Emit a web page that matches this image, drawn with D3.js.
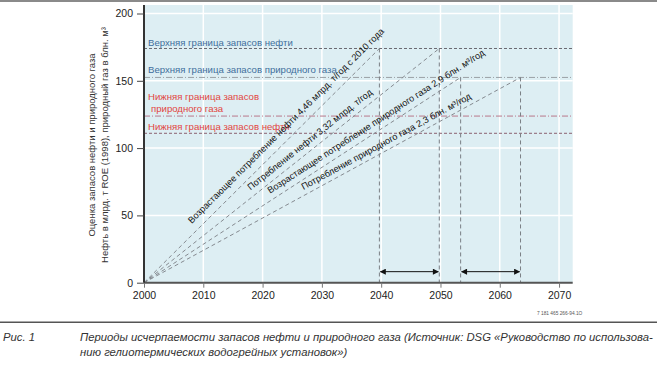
<!DOCTYPE html>
<html>
<head>
<meta charset="utf-8">
<script src="https://cdn.jsdelivr.net/npm/d3@7"></script>
<style>
  body { margin: 0; background: #fff; }
  svg { font-family: "Liberation Sans", Arial, sans-serif; }
</style>
</head>
<body>
<svg width="657" height="365"></svg>
<script>
// data
var xTicks = [2000, 2010, 2020, 2030, 2040, 2050, 2060, 2070];
var yTicks = [0, 50, 100, 150, 200];

var limitNames = ["Верхняя граница запасов нефти", "Верхняя граница запасов природного газа",
                  "Нижняя граница запасов|природного газа", "Нижняя граница запасов нефти"];
var limitValues = [174, 152.5, 123.8, 111];

var lineNames = ["Возрастающее потребление нефти 4,46 млрд. т/год с 2010 года",
                 "Потребление нефти 3,32 млрд. т/год",
                 "Возрастающее потребление природного газа 2,9 блн. м³/год",
                 "Потребление природного газа 2,3 блн. м³/год"];
var lineEndYear = [2039.7, 2049.8, 2053.4, 2063.5];
var lineEndValue = [174, 174, 152.5, 152.5];
var labelStartYear = [2009, 2018.6, 2021.8, 2027.3];

var arrowFrom = [2039.7, 2053.4];
var arrowTo = [2049.8, 2063.5];
var arrowValue = 8.2;

var svg = d3.select("svg");

var x = d3.scaleLinear().domain([2000, 2072.3]).range([144, 572.7]);
var y = d3.scaleLinear().domain([0, 200]).range([282.7, 13.5]);

// frame lines of the page
svg.append("rect").attr("x", 0).attr("y", 0).attr("width", 657).attr("height", 2).attr("fill", "#8a8a8a");
svg.append("rect").attr("x", 0).attr("y", 321.5).attr("width", 657).attr("height", 1.5).attr("fill", "#555");

// plot background
svg.append("rect")
   .attr("x", x(2000)).attr("y", y(206.3))
   .attr("width", x(2072.3) - x(2000)).attr("height", y(0) - y(206.3))
   .attr("fill", "#ddeef3");

// white grid
svg.append("g").selectAll("line").data(xTicks.slice(1)).enter().append("line")
   .attr("x1", function(d) { return x(d); }).attr("x2", function(d) { return x(d); })
   .attr("y1", y(206.3)).attr("y2", y(0))
   .attr("stroke", "#fff").attr("stroke-width", 1.5);
svg.append("g").selectAll("line").data(yTicks.slice(1)).enter().append("line")
   .attr("x1", x(2000)).attr("x2", x(2072.3))
   .attr("y1", function(d) { return y(d); }).attr("y2", function(d) { return y(d); })
   .attr("stroke", "#fff").attr("stroke-width", 1.5);

// horizontal reserve limits
var limitStroke = ["#6a6a72", "#9aa0a6", "#b8788a", "#8a6070"];
var limitDash = ["3,2", "6,2,1,2", "6,2,1,2", "3,2"];
svg.append("g").selectAll("line").data(limitValues).enter().append("line")
   .attr("x1", x(2000)).attr("x2", x(2072.3))
   .attr("y1", function(d) { return y(d); }).attr("y2", function(d) { return y(d); })
   .attr("stroke", function(d, i) { return limitStroke[i]; })
   .attr("stroke-dasharray", function(d, i) { return limitDash[i]; })
   .attr("stroke-width", 1);

var limitColor = ["#3f6f9c", "#3f6f9c", "#e2453f", "#e2453f"];
var limitBase = [46, 73, 100, 129.5];
limitNames.forEach(function(name, i) {
  var parts = name.split("|");
  var t = svg.append("text")
     .attr("x", 148).attr("y", limitBase[i])
     .attr("fill", limitColor[i])
     .style("font-size", "9.6px");
  parts.forEach(function(p, j) {
    t.append("tspan").attr("x", 148 + j * 3).attr("dy", j == 0 ? 0 : 12).text(p);
  });
});

// vertical drop lines
svg.append("g").selectAll("line").data(lineEndYear).enter().append("line")
   .attr("x1", function(d) { return x(d); }).attr("x2", function(d) { return x(d); })
   .attr("y1", function(d, i) { return y(lineEndValue[i]); }).attr("y2", y(0))
   .attr("stroke", "#7a7f85").attr("stroke-dasharray", "4,3").attr("stroke-width", 1);

// consumption lines
svg.append("g").selectAll("line").data(lineEndYear).enter().append("line")
   .attr("x1", x(2000)).attr("y1", y(0))
   .attr("x2", function(d) { return x(d); })
   .attr("y2", function(d, i) { return y(lineEndValue[i]); })
   .attr("stroke", "#858a90").attr("stroke-dasharray", "4,3").attr("stroke-width", 1);

// labels on the lines
var labelOffset = [8, 6, 6, 5];
lineNames.forEach(function(name, i) {
  var dx = x(lineEndYear[i]) - x(2000), dy = y(lineEndValue[i]) - y(0);
  var ang = Math.atan2(dy, dx);
  var t = (labelStartYear[i] - 2000) / (lineEndYear[i] - 2000);
  var px = x(2000) + dx * t, py = y(0) + dy * t;
  px += Math.sin(ang) * labelOffset[i];
  py -= Math.cos(ang) * labelOffset[i];
  var deg = ang * 180 / Math.PI;
  svg.append("text")
     .attr("transform", "translate(" + px + "," + py + ") rotate(" + deg + ")")
     .attr("fill", "#111")
     .style("font-size", "9.2px")
     .text(name);
});

// arrows
svg.append("defs").append("marker")
   .attr("id", "ah").attr("viewBox", "0 0 10 10").attr("refX", 9).attr("refY", 5)
   .attr("markerWidth", 8).attr("markerHeight", 6).attr("markerUnits", "userSpaceOnUse")
   .attr("orient", "auto-start-reverse")
   .append("path").attr("d", "M0,0L10,5L0,10Z").attr("fill", "#111");
svg.append("g").selectAll("line").data(arrowFrom).enter().append("line")
   .attr("x1", function(d) { return x(d) + 1; })
   .attr("x2", function(d, i) { return x(arrowTo[i]) - 1; })
   .attr("y1", y(arrowValue)).attr("y2", y(arrowValue))
   .attr("stroke", "#111").attr("stroke-width", 1)
   .attr("marker-start", "url(#ah)").attr("marker-end", "url(#ah)");

// axes
var xAxis = svg.append("g").attr("transform", "translate(0," + y(0) + ")")
   .call(d3.axisBottom(x).tickValues(xTicks).tickFormat(d3.format("d")).tickSize(5).tickPadding(4));
xAxis.select(".domain").attr("d", "M" + x(2000) + ",0H" + x(2072.3)).attr("stroke", "#555").attr("stroke-width", 2);
xAxis.selectAll(".tick line").attr("stroke", "#777");
xAxis.selectAll(".tick text").style("font-size", "10.5px").attr("fill", "#222").style("font-family", "Liberation Sans, Arial, sans-serif");

var yAxis = svg.append("g").attr("transform", "translate(" + x(2000) + ",0)")
   .call(d3.axisLeft(y).tickValues(yTicks).tickSize(7).tickPadding(4));
yAxis.select(".domain").attr("d", "M0," + y(206.3) + "V" + y(0)).attr("stroke", "#333").attr("stroke-width", 2);
yAxis.selectAll(".tick line").attr("stroke", "#444");
yAxis.selectAll(".tick text").style("font-size", "10.5px").attr("fill", "#222").style("font-family", "Liberation Sans, Arial, sans-serif");

// y title
var yt = svg.append("text").attr("transform", "translate(95,145) rotate(-90)")
   .attr("text-anchor", "middle").attr("fill", "#333").style("font-size", "9.5px");
yt.append("tspan").attr("x", 0).attr("dy", 0).text("Оценка запасов нефти и природного газа");
yt.append("tspan").attr("x", 0).attr("dy", 13).text("Нефть в млрд. т ROE (1998), природный газ в блн. м³");

// small code
svg.append("text").attr("x", 537).attr("y", 315).attr("fill", "#555")
   .style("font-size", "4.8px").text("7 181 465 266-94.1O");

// caption
var cap = svg.append("g").attr("fill", "#333").style("font-style", "italic").style("font-size", "11.3px");
cap.append("text").attr("x", 3).attr("y", 341).text("Рис. 1");
cap.append("text").attr("x", 80).attr("y", 341)
   .text("Периоды исчерпаемости запасов нефти и природного газа (Источник: DSG «Руководство по использова-");
cap.append("text").attr("x", 80).attr("y", 356)
   .text("нию  гелиотермических водогрейных установок»)");
</script>
</body>
</html>
